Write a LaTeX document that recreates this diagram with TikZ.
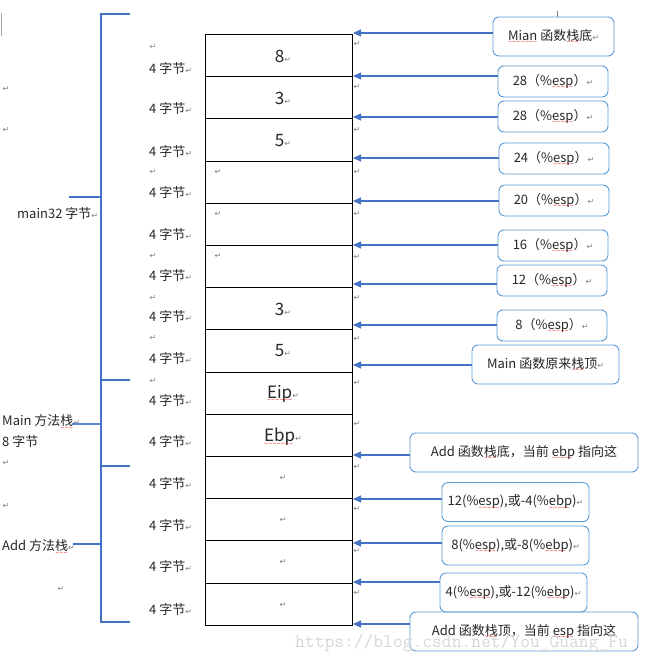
\documentclass[tikz,border=0pt]{standalone}
\usepackage{fontspec}
\setmainfont{Noto Sans CJK SC}
\newfontfamily\djv{DejaVu Sans}
\usetikzlibrary{arrows.meta}
\definecolor{lineblue}{HTML}{4472C4}
\definecolor{boxblue}{HTML}{5B9BD5}
\definecolor{retgrey}{HTML}{7F7F7F}
\definecolor{txt}{HTML}{262626}
\definecolor{wm}{HTML}{D6D6D6}
\newcommand\rw[1]{\leavevmode\setbox0=\hbox{#1}\rlap{\copy0}\lower3.2pt\hbox to\wd0{\leaders\hbox{\djv\fontsize{5}{5}\selectfont\textcolor{red}{∼}}\hfill}}
\newcommand\ret{{\djv\fontsize{8}{8}\selectfont\color{retgrey}↵}}
\begin{document}
\begin{tikzpicture}[x=1pt,y=-1pt,
  lbl/.style={inner sep=0pt,anchor=west,font=\fontsize{13}{15}\selectfont,text=txt},
  rt/.style={inner sep=0pt,font=\djv\fontsize{8}{8}\selectfont,text=retgrey},
  cell/.style={draw,line width=1pt,minimum width=147pt,minimum height=42.2pt,anchor=north west,inner sep=0pt},
  val/.style={inner sep=0pt,font=\fontsize{17}{19}\selectfont,text=txt},
  bx/.style={draw=boxblue,line width=0.9pt,rounded corners=6pt,inner sep=0pt,font=\fontsize{13}{15}\selectfont,text=txt},
  arr/.style={draw=lineblue,line width=1.1pt,-{Triangle[length=8pt,width=7pt]}},
  brk/.style={draw=lineblue,line width=1.1pt}]
\useasboundingbox (0,0) rectangle (645,664);
% stray marks
\draw[gray!70,line width=0.8pt] (1.5,13) -- (1.5,36);
\draw[gray,line width=0.6pt] (557,11) -- (557,17);
% stack cells
\foreach \i in {1,...,14} {
  \node[cell] (c\i) at (205,{34+42.2*(\i-1)}) {};
}
% cell contents
\node[val] (v1) at (283,56) {8\ret};
\node[val] (v2) at (283,98) {3\ret};
\node[val] (v3) at (283,141) {5\ret};
\node[rt] (v4) at (218,172) {↵};
\node[rt] (v5) at (218,214) {↵};
\node[rt] (v6) at (218,256) {↵};
\node[val] (v7) at (283,309) {3\ret};
\node[val] (v8) at (283,351) {5\ret};
\node[val] (v9) at (283,394) {\rw{Eip}\ret};
\node[val] (v10) at (283,437) {\rw{Ebp}\ret};
\node[rt] (v11) at (283,478) {↵};
\node[rt] (v12) at (283,520) {↵};
\node[rt] (v13) at (283,562) {↵};
\node[rt] (v14) at (283,605) {↵};
% size labels
\foreach \y [count=\k] in {69,109,152,193,235,276,317,359,401,442,484,526,567,609} {
  \node[lbl] (s\k) at (149,\y) {4 字节\ret};
}
\foreach \y [count=\k] in {47,172,256,298,338,381} {
  \node[rt] (p\k) at (153,\y) {↵};
}
% right returns
\foreach \y [count=\k] in {44,87,130,172,214,257,298,339,383,424,467,509,551,593} {
  \node[rt] (r\k) at (357,\y) {↵};
}
% left labels
\node[rt] (l1) at (6,89) {↵};
\node[rt] (l2) at (6,130) {↵};
\node[lbl] (m32) at (17,214) {main32 字节\ret};
\node[lbl] (mainst) at (2,422) {Main 方法\rw{栈}\ret};
\node[lbl] (m8) at (2,442) {8 字节};
\node[rt] (l3) at (6,463) {↵};
\node[rt] (l4) at (6,506) {↵};
\node[lbl] (addst) at (2,547) {Add 方法\rw{栈}\ret};
\node[rt] (l5) at (61,589) {↵};
% brackets
\coordinate (k1) at (130,14);
\coordinate (k2) at (101,14);
\coordinate (k3) at (101,622);
\coordinate (k4) at (130,622);
\draw[brk] (k1) -- (k2) -- (k3) -- (k4);
\draw[brk,line width=1.8pt] (101,380) -- (130,380);
\draw[brk] (101,466) -- (130,466);
\draw[brk] (69,197) -- (101,197);
\draw[brk,line width=1.8pt,draw=lineblue!85] (72,424) -- (101,424);
\draw[brk] (73,544) -- (101,544);
% boxes
\node[bx,minimum width=121pt,minimum height=39pt] (b1) at (553.5,36.5) {\rw{Mian} 函数\rw{栈}底\ret};
\node[bx,minimum width=110pt,minimum height=31pt] (b2) at (553,81.5) {28（\%\rw{esp}）\ret};
\node[bx,minimum width=110pt,minimum height=31pt] (b3) at (553,116.5) {28（\%\rw{esp}）\ret};
\node[bx,minimum width=110pt,minimum height=31pt] (b4) at (554,158.5) {24（\%\rw{esp}）\ret};
\node[bx,minimum width=110pt,minimum height=31pt] (b5) at (554,200.5) {20（\%\rw{esp}）\ret};
\node[bx,minimum width=110pt,minimum height=31pt] (b6) at (553,245.5) {16（\%\rw{esp}）\ret};
\node[bx,minimum width=110pt,minimum height=31pt] (b7) at (552,280.5) {12（\%\rw{esp}）\ret};
\node[bx,minimum width=110pt,minimum height=31pt] (b8) at (552,325.5) {8（\%\rw{esp}）\ret};
\node[bx,minimum width=147pt,minimum height=39pt] (b9) at (545.5,364.5) {Main 函数原来\rw{栈}顶\ret};
\node[bx,minimum width=228pt,minimum height=39pt] (b10) at (524,452.5) {Add 函数\rw{栈}底，当前 \rw{ebp} 指向这};
\node[bx,minimum width=147pt,minimum height=39pt] (b11) at (515.5,502) {12(\%\rw{esp}),或-4(\%\rw{ebp})\ret};
\node[bx,minimum width=147pt,minimum height=39pt] (b12) at (515.5,545.5) {8(\%\rw{esp}),或-8(\%\rw{ebp})\ret};
\node[bx,minimum width=147pt,minimum height=39pt] (b13) at (513.5,592.5) {4(\%\rw{esp}),或-12(\%\rw{ebp})\ret};
\node[bx,minimum width=228pt,minimum height=39pt] (b14) at (524,631.5) {Add 函数\rw{栈}顶，当前 \rw{esp} 指向这};
% arrow targets
\foreach \y [count=\k] in {33,76,117,158,201,245,284,325,365,455,499,543,582,624} {
  \coordinate (t\k) at (353,\y);
  \draw[arr] (b\k.west |- t\k) -- (t\k);
}
% watermark
\node[anchor=west,inner sep=0pt,font=\ttfamily\fontsize{19}{19}\selectfont,text=wm] (wmk) at (295,643) {https://blog.csdn.net/You\_Guang\_Fu};
\end{tikzpicture}
\end{document}
